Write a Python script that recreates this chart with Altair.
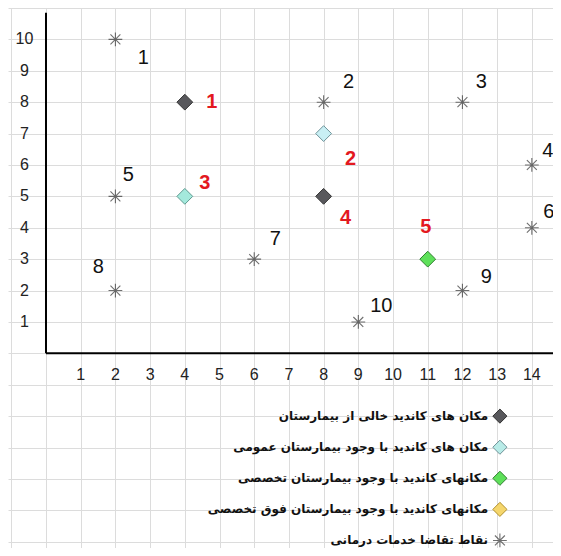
import altair as alt
import pandas as pd

# ---- data ----
demand_ids = [1, 2, 3, 4, 5, 6, 7, 8, 9, 10]
demand_x = [2, 8, 12, 14, 2, 14, 6, 2, 12, 9]
demand_y = [10, 8, 8, 6, 5, 4, 3, 2, 2, 1]

cand_ids = [1, 2, 3, 4, 5]
cand_x = [4, 8, 4, 8, 11]
cand_y = [8, 7, 5, 5, 3]

legend_labels = [
    "مکان های کاندید خالی از بیمارستان",
    "مکان های کاندید با وجود بیمارستان عمومی",
    "مکانهای کاندید با وجود بیمارستان تخصصی",
    "مکانهای کاندید با وجود بیمارستان فوق تخصصی",
    "نقاط تقاضا خدمات درمانی",
]

x_ticks = list(range(1, 15))
y_ticks = list(range(1, 11))

# ---- styles / layout ----
W, H = 545, 540
XDOM = [-1.095, 14.61]
YDOM = [-6.2, 11.0]
GRID = "#dcdcdc"
STAR = "M0,-1L0,1M-1,0L1,0M-0.72,-0.72L0.72,0.72M-0.72,0.72L0.72,-0.72"

cand_fill = ["#58585c", "#c9eff4", "#a4e9dc", "#58585c", "#5ee05a"]
cand_stroke = ["#333333", "#6f9399", "#5f9a90", "#333333", "#2f7f2f"]
legend_fill = ["#58585c", "#b9ece8", "#5ee05a", "#f5d66c", "#ffffff"]
legend_stroke = ["#333333", "#6f9399", "#2f7f2f", "#b0902c", "#333333"]

demand_off = {1: (28, 19), 2: (25, -20), 3: (19, -20), 4: (16, -14), 5: (13, -21),
              6: (17, -16), 7: (21, -20), 8: (-17, -24), 9: (24, -14), 10: (23, -16)}
cand_off = {1: (27, 0), 2: (27, 25), 3: (20, -13), 4: (22, 22), 5: (-2, -32)}

xs = alt.Scale(domain=XDOM, nice=False, zero=False)
ys = alt.Scale(domain=YDOM, nice=False, zero=False)


def X(field="x"):
    return alt.X(f"{field}:Q", scale=xs,
                 axis=alt.Axis(values=list(range(-1, 15)), grid=True, gridColor=GRID,
                               gridWidth=1, labels=False, ticks=False, domain=False, title=""))


def Y(field="y"):
    return alt.Y(f"{field}:Q", scale=ys,
                 axis=alt.Axis(values=list(range(-6, 12)), grid=True, gridColor=GRID,
                               gridWidth=1, labels=False, ticks=False, domain=False, title=""))


demand = pd.DataFrame({"id": demand_ids, "x": demand_x, "y": demand_y})
cand = pd.DataFrame({"id": cand_ids, "x": cand_x, "y": cand_y})

layers = []

# axis lines
axes_df = pd.DataFrame({"x": [0], "y": [0], "x2": [XDOM[1]], "y2": [10.85]})
layers.append(alt.Chart(axes_df).mark_rule(color="black", strokeWidth=2)
              .encode(x=X(), y=Y(), y2="y2"))
layers.append(alt.Chart(axes_df).mark_rule(color="black", strokeWidth=2)
              .encode(x=X(), x2="x2", y=Y()))

# tick labels
xt = pd.DataFrame({"x": x_ticks, "y": [-0.7] * len(x_ticks), "t": [str(v) for v in x_ticks]})
yt = pd.DataFrame({"x": [-0.62] * len(y_ticks), "y": y_ticks, "t": [str(v) for v in y_ticks]})
for df in (xt, yt):
    layers.append(alt.Chart(df).mark_text(font="Liberation Sans", fontSize=16, color="#222222",
                                          align="center", baseline="middle")
                  .encode(x=X(), y=Y(), text="t:N"))

# demand points
layers.append(alt.Chart(demand).mark_point(shape=STAR, filled=False, color="#333333",
                                           size=190, strokeWidth=1.1)
              .encode(x=X(), y=Y()))

# candidate points
layers.append(alt.Chart(cand).mark_point(shape="diamond", filled=True, size=250,
                                         strokeWidth=1, opacity=1)
              .encode(x=X(), y=Y(),
                      fill=alt.Fill("id:N", scale=alt.Scale(domain=cand_ids, range=cand_fill), legend=None),
                      stroke=alt.Stroke("id:N", scale=alt.Scale(domain=cand_ids, range=cand_stroke), legend=None)))

# labels of demand points
for i in demand_ids:
    dx, dy = demand_off[i]
    layers.append(alt.Chart(demand).transform_filter(alt.datum.id == i)
                  .mark_text(font="Liberation Sans", fontSize=20, color="#111111",
                             dx=dx, dy=dy, align="center", baseline="middle")
                  .encode(x=X(), y=Y(), text="id:N"))

# labels of candidate points
for i in cand_ids:
    dx, dy = cand_off[i]
    layers.append(alt.Chart(cand).transform_filter(alt.datum.id == i)
                  .mark_text(font="Liberation Sans", fontSize=20, fontWeight="bold", color="#e3191f",
                             dx=dx, dy=dy, align="center", baseline="middle")
                  .encode(x=X(), y=Y(), text="id:N"))

# hand-drawn legend (symbol right of the Persian text)
n = len(legend_labels)
leg = pd.DataFrame({"k": list(range(n)), "label": legend_labels,
                    "y": [-2.0 - 0.99 * k for k in range(n)],
                    "xs": [13.08] * n, "x": [12.74] * n})
leg_d = leg[leg.k < 4]
leg_s = leg[leg.k == 4]
layers.append(alt.Chart(leg_d).mark_point(shape="diamond", filled=True, size=200, strokeWidth=1, opacity=1)
              .encode(x=X("xs"), y=Y(),
                      fill=alt.Fill("k:N", scale=alt.Scale(domain=list(range(n)), range=legend_fill), legend=None),
                      stroke=alt.Stroke("k:N", scale=alt.Scale(domain=list(range(n)), range=legend_stroke), legend=None)))
layers.append(alt.Chart(leg_s).mark_point(shape=STAR, filled=False, color="#333333", size=190, strokeWidth=1.1)
              .encode(x=X("xs"), y=Y()))
layers.append(alt.Chart(leg).mark_text(font="DejaVu Sans", fontSize=12, fontWeight="bold",
                                       color="#111111", align="right", baseline="middle")
              .encode(x=X(), y=Y(), text="label:N"))

chart = (alt.layer(*layers)
         .properties(width=W, height=H, padding=0, autosize=alt.AutoSizeParams(type="none"),
                     background="white")
         .resolve_scale(fill="independent", stroke="independent")
         .configure_view(stroke=None))

chart.save("out.html", embed_options={"renderer": "svg", "actions": False})
